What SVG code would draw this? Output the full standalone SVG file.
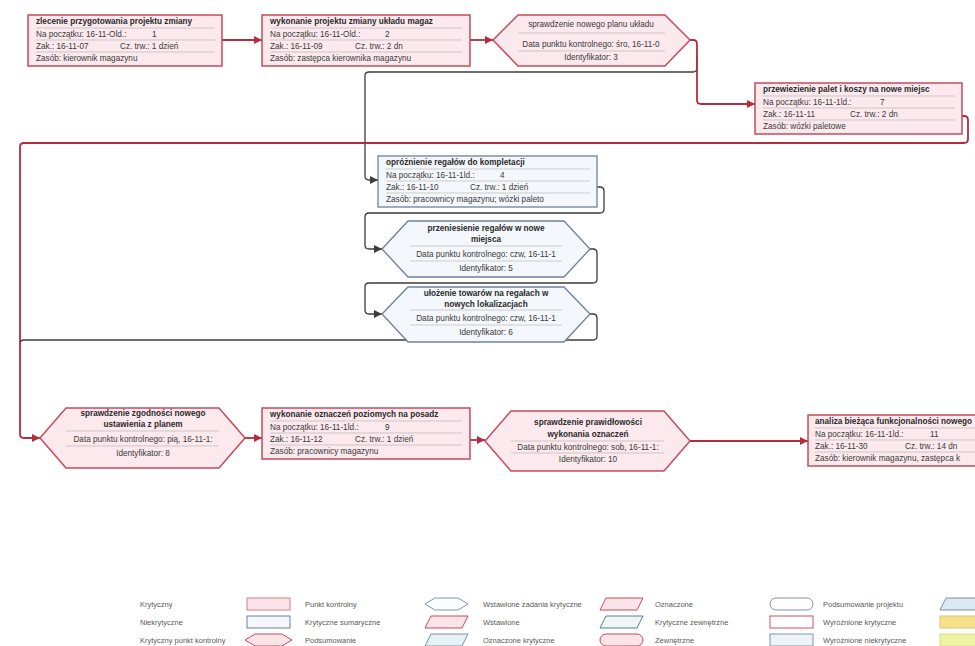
<svg xmlns="http://www.w3.org/2000/svg" width="975" height="646" viewBox="0 0 975 646">
<defs>
<style>
text{font-family:"Liberation Sans",Arial,sans-serif;font-size:8.2px;fill:#3a3a3a}
.t{font-weight:bold;fill:#2a2a2a}
.c{text-anchor:middle}
.crit{fill:#fce9ed;stroke:#c44b5c;stroke-width:1.5}
.nc{fill:#f4f7fb;stroke:#6d819b;stroke-width:1.3}
.sep{stroke:#b9b9b9;stroke-width:0.7}
.rc{fill:none;stroke:#b52c3d;stroke-width:1.8}
.gc{fill:none;stroke:#3c3c3c;stroke-width:1.3}
.lg{font-size:7.5px;fill:#5a5a5a}
</style>
<marker id="ar" viewBox="0 0 10 10" refX="10" refY="5" markerWidth="8" markerHeight="8" orient="auto" markerUnits="userSpaceOnUse">
<path d="M0,0 L10,5 L0,10 z" fill="#b52c3d"/>
</marker>
<marker id="ag" viewBox="0 0 10 10" refX="10" refY="5" markerWidth="8" markerHeight="8" orient="auto" markerUnits="userSpaceOnUse">
<path d="M0,0 L10,5 L0,10 z" fill="#3c3c3c"/>
</marker>
</defs>
<rect width="975" height="646" fill="#ffffff"/>

<g id="connectors">
<path class="gc" d="M697,55 V68 Q697,72 693,72 H369 Q365,72 365,76 V176 Q365,180 369,180 H378" marker-end="url(#ag)"/>
<path class="gc" d="M597,187 H600 Q604,187 604,191 V209 Q604,213 600,213 H369 Q365,213 365,217 V245 Q365,249 369,249 H382" marker-end="url(#ag)"/>
<path class="gc" d="M590,249 H593 Q597,249 597,253 V279 Q597,283 593,283 H369 Q365,283 365,287 V310 Q365,314 369,314 H382" marker-end="url(#ag)"/>
<path class="gc" d="M590,314 H593 Q597,314 597,318 V336 Q597,340 593,340 H24 Q20,340 20,344"/>
<path class="rc" d="M222,40 H262" marker-end="url(#ar)"/>
<path class="rc" d="M470,40 H493" marker-end="url(#ar)"/>
<path class="rc" d="M690,40 H693 Q697,40 697,44 V100 Q697,104 701,104 H755" marker-end="url(#ar)"/>
<path class="rc" d="M962,116 H964 Q968,116 968,120 V139 Q968,143 964,143 H24 Q20,143 20,147 V434 Q20,438 24,438 H40" marker-end="url(#ar)"/>
<path class="rc" d="M245,438 H262" marker-end="url(#ar)"/>
<path class="rc" d="M470,440 H485" marker-end="url(#ar)"/>
<path class="rc" d="M690,441 H808" marker-end="url(#ar)"/>
</g>

<g id="node1">
<rect class="crit" x="28" y="15" width="194" height="51"/>
<line class="sep" x1="36" y1="28" x2="215" y2="28"/>
<line class="sep" x1="36" y1="40" x2="215" y2="40"/>
<line class="sep" x1="36" y1="52" x2="215" y2="52"/>
<text class="t" x="36" y="24">zlecenie przygotowania projektu zmiany</text>
<text x="36" y="37">Na początku: 16-11-Old.:</text><text x="152" y="37">1</text>
<text x="36" y="49">Zak.:  16-11-07</text><text x="120" y="49">Cz. trw.: 1 dzień</text>
<text x="36" y="61">Zasób: kierownik magazynu</text>
</g>

<g id="node2">
<rect class="crit" x="262" y="15" width="208" height="51"/>
<line class="sep" x1="270" y1="28" x2="462" y2="28"/>
<line class="sep" x1="270" y1="40" x2="462" y2="40"/>
<line class="sep" x1="270" y1="52" x2="462" y2="52"/>
<text class="t" x="270" y="24">wykonanie projektu zmiany układu magaz</text>
<text x="270" y="37">Na początku: 16-11-Old.:</text><text x="385" y="37">2</text>
<text x="270" y="49">Zak.:  16-11-09</text><text x="355" y="49">Cz. trw.: 2 dn</text>
<text x="270" y="61">Zasób: zastępca kierownika magazynu</text>
</g>

<g id="node3">
<polygon class="crit" points="493,40 518,15 665,15 690,40 665,66 518,66"/>
<line class="sep" x1="518" y1="33" x2="665" y2="33"/>
<line class="sep" x1="518" y1="51" x2="665" y2="51"/>
<text class="c" x="591" y="27">sprawdzenie nowego planu układu</text>
<text class="c" x="591" y="47">Data punktu kontrolnego: śro, 16-11-0</text>
<text class="c" x="591" y="60">Identyfikator: 3</text>
</g>

<g id="node7">
<rect class="crit" x="755" y="83" width="207" height="51"/>
<line class="sep" x1="763" y1="96" x2="955" y2="96"/>
<line class="sep" x1="763" y1="108" x2="955" y2="108"/>
<line class="sep" x1="763" y1="120" x2="955" y2="120"/>
<text class="t" x="763" y="92">przewiezienie palet i koszy na nowe miejsc</text>
<text x="763" y="105">Na początku: 16-11-1ld.:</text><text x="880" y="105">7</text>
<text x="763" y="117">Zak.:  16-11-11</text><text x="850" y="117">Cz. trw.: 2 dn</text>
<text x="763" y="129">Zasób: wózki paletowe</text>
</g>

<g id="node4">
<rect class="nc" x="378" y="156" width="219" height="51"/>
<line class="sep" x1="386" y1="169" x2="590" y2="169"/>
<line class="sep" x1="386" y1="181" x2="590" y2="181"/>
<line class="sep" x1="386" y1="193" x2="590" y2="193"/>
<text class="t" x="386" y="165">opróżnienie regałów do kompletacji</text>
<text x="386" y="178">Na początku: 16-11-1ld.:</text><text x="500" y="178">4</text>
<text x="386" y="190">Zak.:  16-11-10</text><text x="470" y="190">Cz. trw.: 1 dzień</text>
<text x="386" y="202">Zasób: pracownicy magazynu; wózki paleto</text>
</g>

<g id="node5">
<polygon class="nc" points="382,249 408,221 564,221 590,249 564,277 408,277"/>
<line class="sep" x1="410" y1="246" x2="562" y2="246"/>
<line class="sep" x1="410" y1="261" x2="562" y2="261"/>
<text class="t c" x="486" y="231">przeniesienie regałów w nowe</text>
<text class="t c" x="486" y="242">miejsca</text>
<text class="c" x="486" y="257">Data punktu kontrolnego: czw, 16-11-1</text>
<text class="c" x="486" y="271">Identyfikator: 5</text>
</g>

<g id="node6">
<polygon class="nc" points="382,314 408,287 564,287 590,314 564,342 408,342"/>
<line class="sep" x1="410" y1="310" x2="562" y2="310"/>
<line class="sep" x1="410" y1="325" x2="562" y2="325"/>
<text class="t c" x="486" y="296">ułożenie towarów na regałach w</text>
<text class="t c" x="486" y="307">nowych lokalizacjach</text>
<text class="c" x="486" y="321">Data punktu kontrolnego: czw, 16-11-1</text>
<text class="c" x="486" y="335">Identyfikator: 6</text>
</g>

<g id="node8">
<polygon class="crit" points="40,438 66,408 219,408 245,438 219,468 66,468"/>
<line class="sep" x1="66" y1="431" x2="219" y2="431"/>
<line class="sep" x1="66" y1="446" x2="219" y2="446"/>
<text class="t c" x="143" y="416">sprawdzenie zgodności nowego</text>
<text class="t c" x="143" y="427">ustawienia z planem</text>
<text class="c" x="143" y="442">Data punktu kontrolnego: pią, 16-11-1:</text>
<text class="c" x="143" y="456">Identyfikator: 8</text>
</g>

<g id="node9">
<rect class="crit" x="262" y="408" width="208" height="51"/>
<line class="sep" x1="270" y1="421" x2="462" y2="421"/>
<line class="sep" x1="270" y1="433" x2="462" y2="433"/>
<line class="sep" x1="270" y1="445" x2="462" y2="445"/>
<text class="t" x="270" y="417">wykonanie oznaczeń poziomych na posadz</text>
<text x="270" y="430">Na początku: 16-11-1ld.:</text><text x="385" y="430">9</text>
<text x="270" y="442">Zak.:  16-11-12</text><text x="355" y="442">Cz. trw.: 1 dzień</text>
<text x="270" y="454">Zasób: pracownicy magazynu</text>
</g>

<g id="node10">
<polygon class="crit" points="485,441 511,411 664,411 690,441 664,471 511,471"/>
<line class="sep" x1="511" y1="441" x2="664" y2="441"/>
<line class="sep" x1="511" y1="453" x2="664" y2="453"/>
<text class="t c" x="588" y="425">sprawdzenie prawidłowości</text>
<text class="t c" x="588" y="437">wykonania oznaczeń</text>
<text class="c" x="588" y="450">Data punktu kontrolnego: sob, 16-11-1:</text>
<text class="c" x="588" y="462">Identyfikator: 10</text>
</g>

<g id="node11">
<rect class="crit" x="808" y="415" width="175" height="51"/>
<line class="sep" x1="815" y1="428" x2="975" y2="428"/>
<line class="sep" x1="815" y1="440" x2="975" y2="440"/>
<line class="sep" x1="815" y1="452" x2="975" y2="452"/>
<text class="t" x="815" y="424">analiza bieżąca funkcjonalności nowego</text>
<text x="815" y="437">Na początku: 16-11-1ld.:</text><text x="930" y="437">11</text>
<text x="815" y="449">Zak.:  16-11-30</text><text x="905" y="449">Cz. trw.: 14 dn</text>
<text x="815" y="461">Zasób: kierownik magazynu, zastępca k</text>
</g>

<g id="legend">
<text class="lg" x="140" y="607">Krytyczny</text>
<text class="lg" x="140" y="625">Niekrytyczne</text>
<text class="lg" x="140" y="643">Krytyczny punkt kontrolny</text>
<rect x="247" y="598" width="43" height="12" fill="#fbe4e9" stroke="#d67e8c" stroke-width="1"/>
<rect x="247" y="616" width="43" height="12" fill="#f3f7fb" stroke="#6d819b" stroke-width="1"/>
<polygon points="245,640 255,634 282,634 292,640 282,646 255,646" fill="#fbe4e9" stroke="#c44b5c" stroke-width="1"/>
<text class="lg" x="305" y="607">Punkt kontrolny</text>
<text class="lg" x="305" y="625">Krytyczne sumaryczne</text>
<text class="lg" x="305" y="643">Podsumowanie</text>
<polygon points="425,604 435,598 458,598 468,604 458,610 435,610" fill="#fbfcfd" stroke="#8494a8" stroke-width="1"/>
<polygon points="431,616 468,616 462,628 425,628" fill="#fbe4e9" stroke="#c44b5c" stroke-width="1"/>
<polygon points="431,634 468,634 462,646 425,646" fill="#e6f1f5" stroke="#7d8fa3" stroke-width="1"/>
<text class="lg" x="483" y="607">Wstawione zadania krytyczne</text>
<text class="lg" x="483" y="625">Wstawione</text>
<text class="lg" x="483" y="643">Oznaczone krytyczne</text>
<polygon points="606,598 643,598 637,610 600,610" fill="#fbe4e9" stroke="#c44b5c" stroke-width="1"/>
<polygon points="606,616 643,616 637,628 600,628" fill="#eef6f6" stroke="#5d7c88" stroke-width="1"/>
<rect x="600" y="634" width="43" height="12" rx="6" fill="#fbe4e9" stroke="#c44b5c" stroke-width="1"/>
<text class="lg" x="655" y="607">Oznaczone</text>
<text class="lg" x="655" y="625">Krytyczne zewnętrzne</text>
<text class="lg" x="655" y="643">Zewnętrzne</text>
<rect x="770" y="598" width="43" height="12" rx="6" fill="#fdfdfe" stroke="#8494a8" stroke-width="1"/>
<rect x="770" y="616" width="43" height="12" fill="#ffffff" stroke="#d0505f" stroke-width="1"/>
<rect x="770" y="634" width="43" height="12" fill="#eef3f8" stroke="#8494a8" stroke-width="1"/>
<text class="lg" x="823" y="607">Podsumowanie projektu</text>
<text class="lg" x="823" y="625">Wyróżnione krytyczne</text>
<text class="lg" x="823" y="643">Wyróżnione niekrytyczne</text>
<polygon points="946,598 983,598 977,610 940,610" fill="#dce9f2" stroke="#7d8fa3" stroke-width="1"/>
<rect x="940" y="616" width="43" height="12" fill="#f6e08a" stroke="#e0c46e" stroke-width="1"/>
<rect x="940" y="634" width="43" height="12" fill="#eef2a2" stroke="#d6dc8a" stroke-width="1"/>
</g>
</svg>
